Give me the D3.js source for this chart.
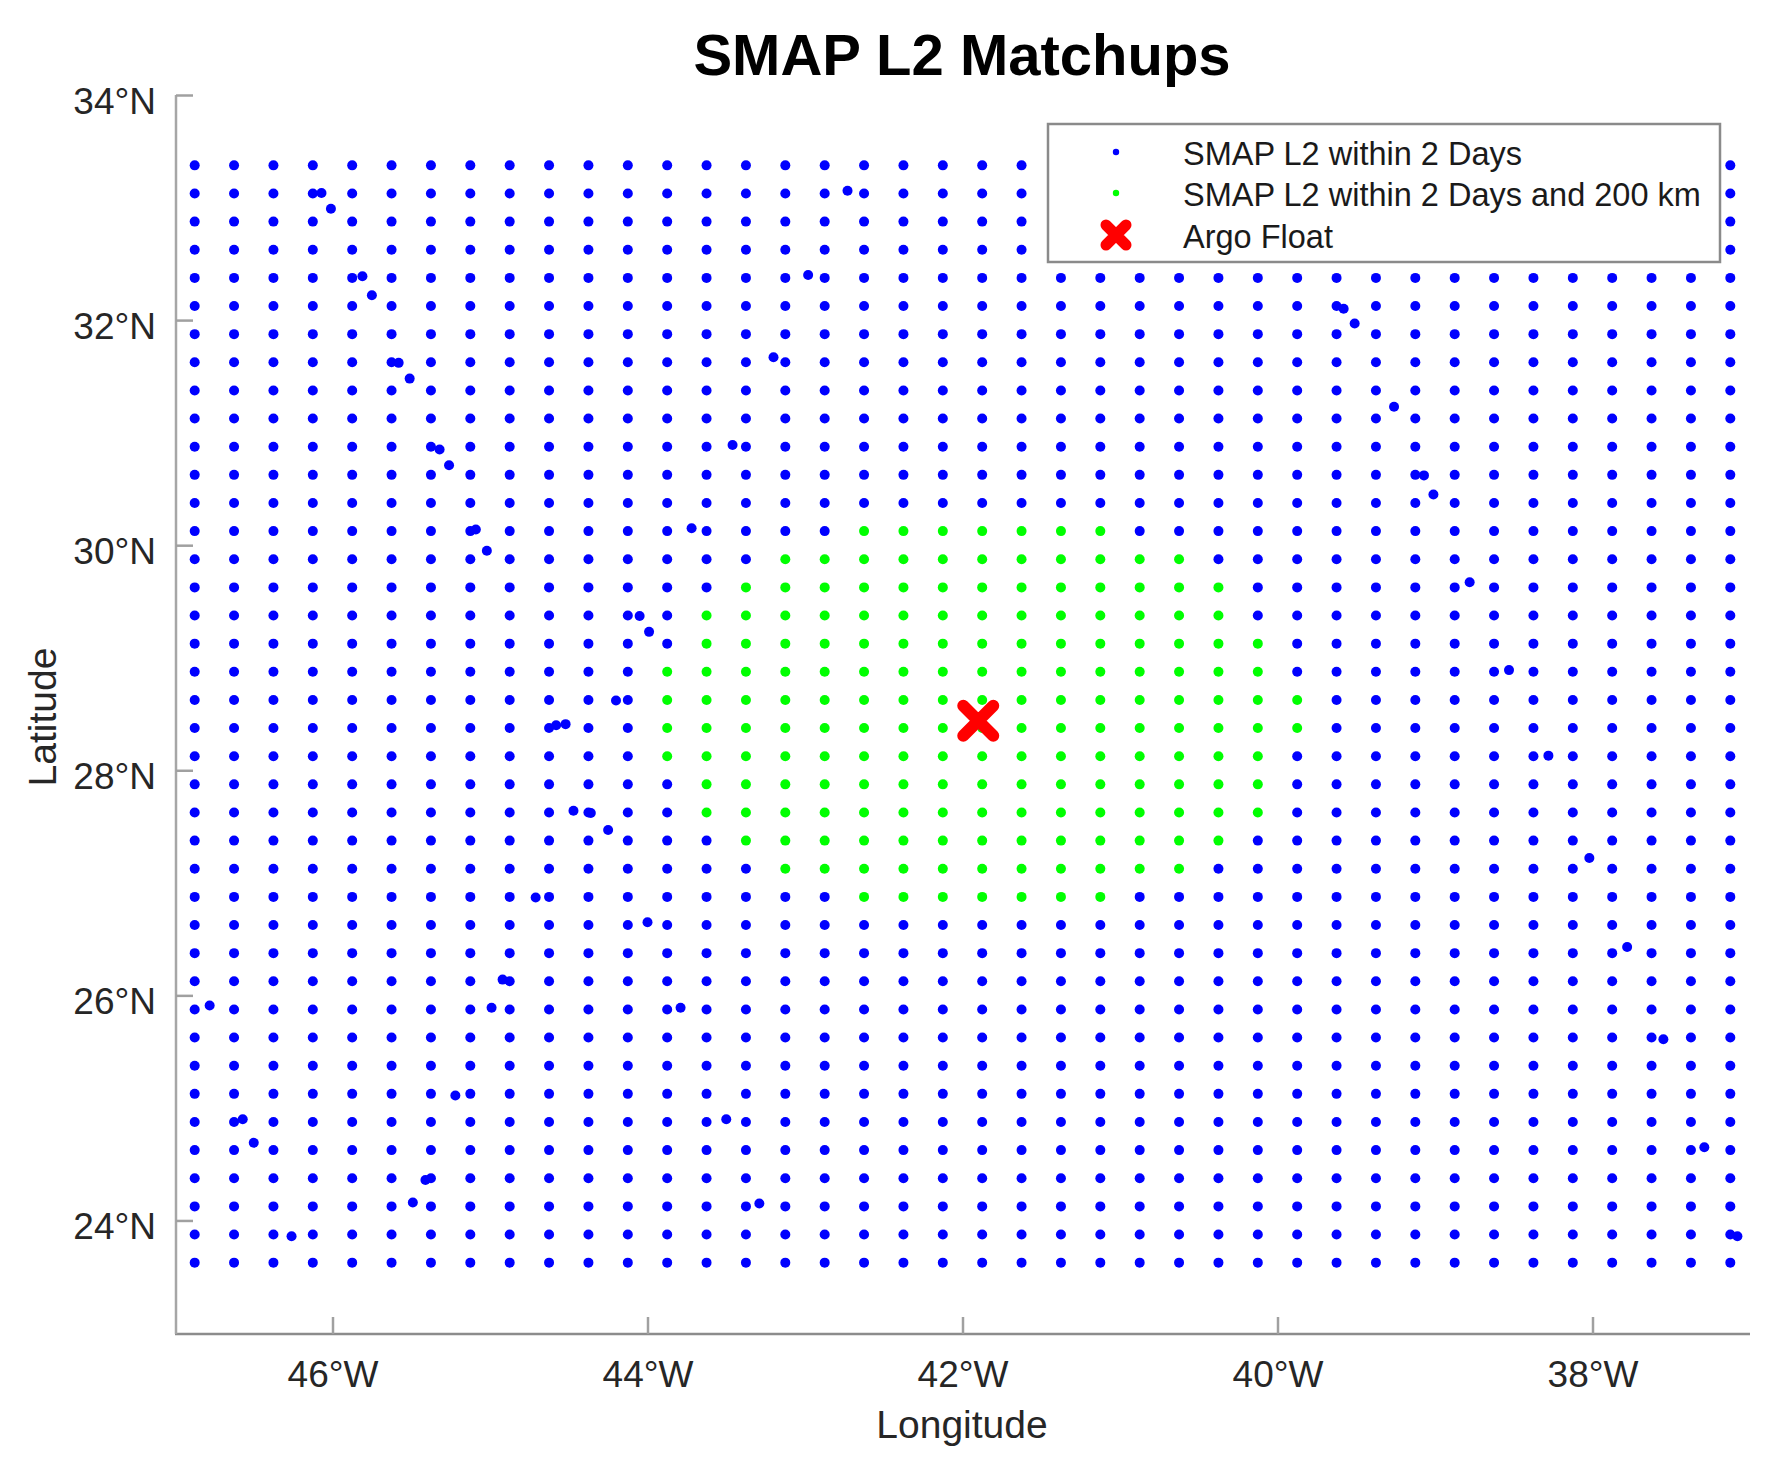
<!DOCTYPE html>
<html><head><meta charset="utf-8">
<script src="https://cdn.jsdelivr.net/npm/d3@7"></script>
<style>
html,body{margin:0;padding:0;background:#fff;}
text{font-family:"Liberation Sans",Arial,Helvetica,sans-serif;}
</style></head>
<body>
<svg id="chart" width="1790" height="1468"></svg>
<script>
// ---- data ----
// SMAP L2 grid centres (0.25 degree grid)
const gridLon = [-46.875,-46.625,-46.375,-46.125,-45.875,-45.625,-45.375,-45.125,-44.875,-44.625,
  -44.375,-44.125,-43.875,-43.625,-43.375,-43.125,-42.875,-42.625,-42.375,-42.125,
  -41.875,-41.625,-41.375,-41.125,-40.875,-40.625,-40.375,-40.125,-39.875,-39.625,
  -39.375,-39.125,-38.875,-38.625,-38.375,-38.125,-37.875,-37.625,-37.375,-37.125];
const gridLat = [33.375,33.125,32.875,32.625,32.375,32.125,31.875,31.625,31.375,31.125,
  30.875,30.625,30.375,30.125,29.875,29.625,29.375,29.125,28.875,28.625,
  28.375,28.125,27.875,27.625,27.375,27.125,26.875,26.625,26.375,26.125,
  25.875,25.625,25.375,25.125,24.875,24.625,24.375,24.125,23.875,23.625];
// extra off-grid SMAP L2 points [lon, lat]
const extraLon = [-46.07,-46.01,-45.81,-45.75,-42.73,-45.51,-45.58,-45.26,-45.32,-45.02,-45.09,
  -43.99,-44.05,-44.47,-44.36,-44.25,-44.58,-44.52,-43.20,-43.46,-43.72,-39.51,-39.58,-39.26,
  -39.01,-39.07,-38.78,-38.53,-38.28,-38.02,-37.78,-37.55,-37.29,-37.08,-46.78,-46.57,-46.50,
  -46.26,-45.49,-45.41,-45.22,-44.99,-44.92,-44.71,-44.00,-43.79,-43.50,-43.29,-42.98,-44.20];
const extraLat = [33.13,32.99,32.39,32.22,33.15,31.48,31.62,30.71,30.85,29.95,30.14,
  29.23,29.37,27.64,27.62,27.47,28.40,28.41,31.67,30.89,30.15,31.97,32.10,31.23,
  30.45,30.62,29.67,28.89,28.13,27.22,26.43,25.61,24.65,23.86,25.91,24.90,24.69,
  23.86,24.16,24.36,25.11,25.89,26.14,26.87,26.65,25.89,24.90,24.15,32.40,28.62];
// rows of SMAP L2 within 2 days and 200 km: latitude, first and last longitude
const nearLat  = [30.125,29.875,29.625,29.375,29.125,28.875,28.625,28.375,28.125,27.875,27.625,27.375,27.125,26.875];
const nearLon0 = [-42.625,-43.125,-43.375,-43.625,-43.625,-43.875,-43.875,-43.875,-43.875,-43.625,-43.625,-43.375,-43.125,-42.625];
const nearLon1 = [-41.125,-40.625,-40.375,-40.375,-40.125,-40.125,-39.875,-39.875,-40.125,-40.125,-40.125,-40.375,-40.625,-41.125];
// Argo float
const argoLon = [-41.90];
const argoLat = [28.44];
const xTicks = [-46,-44,-42,-40,-38];
const yTicks = [24,26,28,30,32,34];
const legendLabels = ["SMAP L2 within 2 Days","SMAP L2 within 2 Days and 200 km","Argo Float"];

// ---- drawing ----
const svg = d3.select("#chart");
const x = d3.scaleLinear().domain([-47,-37]).range([175,1750]);
const y = d3.scaleLinear().domain([23,34]).range([1333,95]);
const axisCol = "#8c8c8c", textCol = "#262626";

const pts = [];
gridLat.forEach(la => gridLon.forEach(lo => pts.push({lo, la})));
extraLon.forEach((lo,i) => pts.push({lo, la: extraLat[i]}));
const near = [];
nearLat.forEach((la,i) => gridLon.forEach(lo => { if (lo >= nearLon0[i]-1e-6 && lo <= nearLon1[i]+1e-6) near.push({lo, la}); }));
const nearKey = new Set(near.map(d => d.lo+","+d.la));

const g = svg.append("g");
g.selectAll("circle.blue").data(pts.filter(d => !nearKey.has(d.lo+","+d.la))).join("circle")
  .attr("class","blue").attr("cx", d => x(d.lo)).attr("cy", d => y(d.la)).attr("r", 5).attr("fill","#0000ff");
g.selectAll("circle.green").data(near).join("circle")
  .attr("class","green").attr("cx", d => x(d.lo)).attr("cy", d => y(d.la)).attr("r", 5).attr("fill","#00ff00");

function xMark(sel, cx, cy, h, w) {
  sel.append("path").attr("d", `M${cx-h},${cy-h}L${cx+h},${cy+h}M${cx-h},${cy+h}L${cx+h},${cy-h}`)
    .attr("stroke","#ff0000").attr("stroke-width", w).attr("stroke-linecap","round").attr("fill","none");
}
argoLon.forEach((lo,i) => xMark(g, x(lo), y(argoLat[i]), 15, 12));

// axes
const xAxis = d3.axisBottom(x).tickValues(xTicks).tickSize(-17).tickPadding(0).tickFormat(d => Math.abs(d) + "°W");
const yAxis = d3.axisLeft(y).tickValues(yTicks).tickSize(-17).tickPadding(0).tickFormat(d => d + "°N");
const gx = svg.append("g").attr("transform","translate(0,1334)").call(xAxis);
gx.select(".domain").attr("d", `M${x(-47)},0H${x(-37)}`).attr("stroke", axisCol).attr("stroke-width",2.5);
gx.selectAll(".tick line").attr("stroke", "#a0a0a0").attr("stroke-width",2.5);
gx.selectAll(".tick text").attr("y", 53).attr("dy",0).attr("font-size",37).attr("fill",textCol)
  .attr("font-family","Liberation Sans, Arial, sans-serif");
const gy = svg.append("g").attr("transform","translate(176,0)").call(yAxis);
gy.select(".domain").attr("d", `M0,${y(34)}V${y(23)+1}`).attr("stroke", "#a6a6a6").attr("stroke-width",2.5);
gy.selectAll(".tick line").attr("stroke", "#a0a0a0").attr("stroke-width",2.5);
gy.selectAll(".tick text").attr("x", -20).attr("dy",0).attr("y", 18).attr("font-size",37).attr("fill",textCol)
  .attr("font-family","Liberation Sans, Arial, sans-serif");

// labels
svg.append("text").attr("x", 962).attr("y", 75).attr("text-anchor","middle").attr("font-size",58)
  .attr("font-weight","bold").attr("fill","#000").text("SMAP L2 Matchups");
svg.append("text").attr("x", 962).attr("y", 1438).attr("text-anchor","middle").attr("font-size",39)
  .attr("fill",textCol).text("Longitude");
svg.append("text").attr("transform","translate(56,717) rotate(-90)").attr("text-anchor","middle").attr("font-size",39)
  .attr("fill",textCol).text("Latitude");

// legend
const lg = svg.append("g");
lg.append("rect").attr("x",1048).attr("y",124).attr("width",672).attr("height",138)
  .attr("fill","#fff").attr("stroke","#8a8a8a").attr("stroke-width",2.5);
const rowY = [152,193,235];
lg.append("circle").attr("cx",1116).attr("cy",rowY[0]).attr("r",3.2).attr("fill","#0000ff");
lg.append("circle").attr("cx",1116).attr("cy",rowY[1]).attr("r",3.2).attr("fill","#00ff00");
xMark(lg, 1116, rowY[2], 10, 11);
legendLabels.forEach((t,i) => lg.append("text").attr("x",1183).attr("y",rowY[i]+13).attr("font-size",32.5)
  .attr("fill","#1a1a1a").text(t));
</script>
</body></html>
